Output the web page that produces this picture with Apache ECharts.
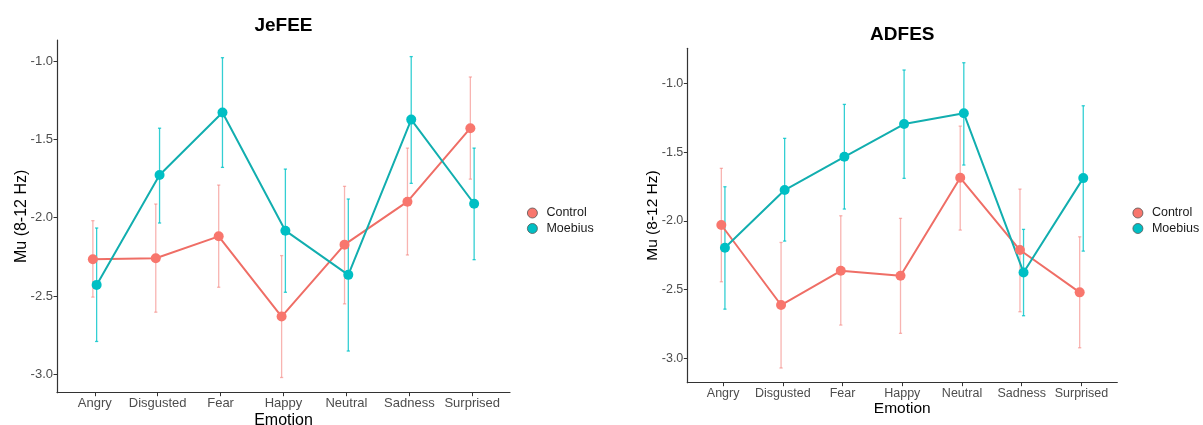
<!DOCTYPE html>
<html>
<head>
<meta charset="utf-8">
<script src="https://cdn.jsdelivr.net/npm/echarts@6/dist/echarts.min.js"></script>
<style>
html,body{margin:0;padding:0;background:#fff;}
#chart{width:1203px;height:425px;}
</style>
</head>
<body>
<div id="chart"></div>
<script>
const categories = ['Angry','Disgusted','Fear','Happy','Neutral','Sadness','Surprised'];
const groups = ['Control','Moebius'];
const yTicks = [-3.0, -2.5, -2.0, -1.5, -1.0];

const jefeeControlMean = [-2.265, -2.259, -2.119, -2.631, -2.172, -1.898, -1.429];
const jefeeControlLow  = [-2.507, -2.603, -2.444, -3.020, -2.550, -2.238, -1.754];
const jefeeControlHigh = [-2.019, -1.913, -1.792, -2.242, -1.800, -1.556, -1.102];
const jefeeMoebiusMean = [-2.429, -1.728, -1.329, -2.083, -2.365, -1.374, -1.911];
const jefeeMoebiusLow  = [-2.790, -2.034, -1.679, -2.476, -2.851, -1.781, -2.268];
const jefeeMoebiusHigh = [-2.066, -1.429, -0.979, -1.690, -1.881, -0.972, -1.556];

const adfesControlMean = [-2.030, -2.612, -2.363, -2.399, -1.687, -2.212, -2.520];
const adfesControlLow  = [-2.443, -3.070, -2.758, -2.818, -2.067, -2.661, -2.923];
const adfesControlHigh = [-1.618, -2.157, -1.963, -1.982, -1.311, -1.769, -2.116];
const adfesMoebiusMean = [-2.195, -1.776, -1.534, -1.296, -1.218, -2.375, -1.689];
const adfesMoebiusLow  = [-2.642, -2.147, -1.914, -1.691, -1.594, -2.690, -2.220];
const adfesMoebiusHigh = [-1.752, -1.400, -1.153, -0.903, -0.850, -2.062, -1.163];

const FONT = 'Liberation Sans, Arial, Helvetica, sans-serif';
const pointColor = { Control: '#F8766D', Moebius: '#00BFC4' };
const lineColor  = { Control: '#EF6E66', Moebius: '#12AEAF' };
const barColor   = { Control: 'rgba(244,130,125,0.6)', Moebius: 'rgba(0,195,200,0.8)' };
const dodge = { Control: -0.03, Moebius: 0.03 };

const panels = [
  { title: 'JeFEE', grid: {left: 57, top: 40, width: 453, height: 352.7}, ymin: -3.117, ymax: -0.866,
    font: 13, nameFont: 16, titleTop: 16.5, yNameGap: 27.4, xNameGap: 19.5,
    legend: {left: 527, top: 206.5},
    data: { Control: [jefeeControlMean, jefeeControlLow, jefeeControlHigh],
            Moebius: [jefeeMoebiusMean, jefeeMoebiusLow, jefeeMoebiusHigh] } },
  { title: 'ADFES', grid: {left: 687.3, top: 48.3, width: 430, height: 334.4}, ymin: -3.177, ymax: -0.745,
    font: 12.5, nameFont: 15.5, titleTop: 25.5, yNameGap: 26.5, xNameGap: 18.5,
    legend: {left: 1132.5, top: 206.5},
    data: { Control: [adfesControlMean, adfesControlLow, adfesControlHigh],
            Moebius: [adfesMoebiusMean, adfesMoebiusLow, adfesMoebiusHigh] } }
];

const option = {
  animation: false,
  backgroundColor: '#ffffff',
  title: [], grid: [], xAxis: [], yAxis: [], legend: [], series: []
};

panels.forEach((p, k) => {
  option.title.push({
    text: p.title, padding: 0,
    left: p.grid.left + p.grid.width / 2, top: p.titleTop, textAlign: 'center',
    textStyle: { fontFamily: FONT, fontSize: 19, fontWeight: 'bold', color: '#000' }
  });
  option.grid.push(Object.assign({ containLabel: false, outerBoundsMode: 'none' }, p.grid));
  option.xAxis.push({
    type: 'value', gridIndex: k, min: -0.6, max: 6.6,
    name: 'Emotion', nameLocation: 'middle', nameGap: p.xNameGap, nameMoveOverlap: false,
    nameTextStyle: { fontFamily: FONT, fontSize: p.nameFont, color: '#000' },
    axisLine: { show: true, onZero: false, lineStyle: { color: '#333', width: 1.2 } },
    axisTick: { show: true, length: 3.5, customValues: [0,1,2,3,4,5,6], lineStyle: { color: '#333', width: 1 } },
    axisLabel: { show: true, customValues: [0,1,2,3,4,5,6], margin: 4,
      formatter: v => categories[Math.round(v)],
      fontFamily: FONT, fontSize: p.font, color: '#4D4D4D' },
    splitLine: { show: false }
  });
  option.yAxis.push({
    type: 'value', gridIndex: k, min: p.ymin, max: p.ymax,
    name: 'Mu (8-12 Hz)', nameLocation: 'middle', nameGap: p.yNameGap, nameMoveOverlap: false,
    nameTextStyle: { fontFamily: FONT, fontSize: p.nameFont, color: '#000' },
    axisLine: { show: true, onZero: false, lineStyle: { color: '#333', width: 1.2 } },
    axisTick: { show: true, length: 3.5, customValues: yTicks, lineStyle: { color: '#333', width: 1 } },
    axisLabel: { show: true, customValues: yTicks, margin: 4,
      formatter: v => Number(v).toFixed(1),
      fontFamily: FONT, fontSize: p.font, color: '#4D4D4D' },
    splitLine: { show: false }
  });
  option.legend.push({
    data: groups, orient: 'vertical', left: p.legend.left, top: p.legend.top, padding: 0,
    icon: 'circle', itemWidth: 10, itemHeight: 10, itemGap: 2.5,
    itemStyle: { borderColor: '#555', borderWidth: 0.8 },
    textStyle: { fontFamily: FONT, fontSize: 12.5, color: '#1a1a1a', lineHeight: 13, padding: [0,0,0,4] },
    selectedMode: false
  });

  groups.forEach(g => {
    const [mean, low, high] = p.data[g];
    option.series.push({
      type: 'custom', name: g + ' error', xAxisIndex: k, yAxisIndex: k, z: 1,
      data: categories.map((c, i) => [i + dodge[g], low[i], high[i]]),
      encode: { x: 0, y: [1, 2] },
      renderItem: (params, api) => {
        const x = api.value(0);
        const a = api.coord([x, api.value(1)]);
        const b = api.coord([x, api.value(2)]);
        const w = 1.6;
        const st = { stroke: barColor[g], lineWidth: 1.3 };
        return { type: 'group', children: [
          { type: 'line', shape: { x1: a[0], y1: a[1], x2: b[0], y2: b[1] }, style: st },
          { type: 'line', shape: { x1: a[0]-w, y1: a[1], x2: a[0]+w, y2: a[1] }, style: st },
          { type: 'line', shape: { x1: b[0]-w, y1: b[1], x2: b[0]+w, y2: b[1] }, style: st }
        ]};
      }
    });
  });
  groups.forEach(g => {
    const mean = p.data[g][0];
    option.series.push({
      type: 'line', name: g, xAxisIndex: k, yAxisIndex: k, z: 3,
      data: categories.map((c, i) => [i + dodge[g], mean[i]]),
      symbol: 'circle', symbolSize: 10, showSymbol: true,
      lineStyle: { color: lineColor[g], width: 2 },
      itemStyle: { color: pointColor[g] },
      emphasis: { disabled: true }
    });
  });
});

const chart = echarts.init(document.getElementById('chart'), null, { renderer: 'canvas' });
chart.setOption(option);
</script>
</body>
</html>
